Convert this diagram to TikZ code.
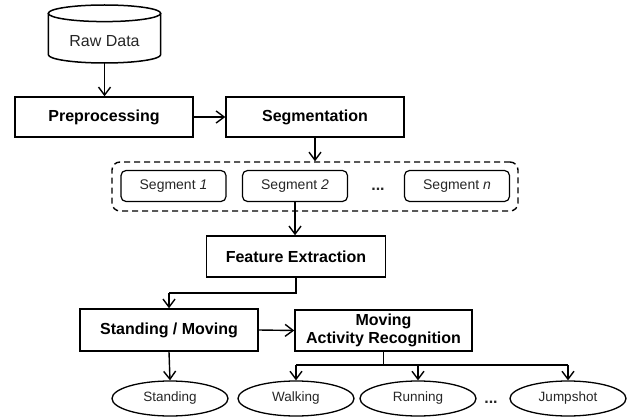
\documentclass[tikz,border=0pt]{standalone}
\usepackage{fontspec}
\setmainfont{Liberation Sans}
\usetikzlibrary{arrows.meta,calc,shapes.geometric}
\begin{document}
\begin{tikzpicture}[x=1pt,y=1pt,
  box/.style={draw,line width=1.5pt,inner sep=0pt,font=\fontsize{16}{19}\selectfont\bfseries,align=center},
  segbox/.style={draw,line width=1.2pt,rounded corners=5pt,inner sep=0pt,minimum width=105pt,minimum height=31pt,font=\fontsize{14}{16}\selectfont,text=black!85},
  oval/.style={draw,ellipse,line width=1.3pt,inner sep=0pt,minimum width=116pt,minimum height=35pt,font=\fontsize{13.5}{16}\selectfont,text=black!85},
  conn/.style={line width=1.4pt,-{Straight Barb[length=8pt,width=12pt]}},
  plain/.style={line width=1.4pt},
  dots/.style={font=\fontsize{16}{16}\selectfont\bfseries,text=black!85,inner sep=0pt,anchor=base}
]
\useasboundingbox (0,0) rectangle (631,418);
% cylinder
\fill[white] (48.3,404.7) -- (48.3,363.3) arc[start angle=180,end angle=360,x radius=56.2pt,y radius=8.3pt] -- (160.7,404.7) -- cycle;
\draw[line width=1.5pt] (48.3,404.7) -- (48.3,363.3) arc[start angle=180,end angle=360,x radius=56.2pt,y radius=8.3pt] -- (160.7,404.7);
\draw[line width=1.5pt] (104.5,404.7) ellipse[x radius=56.2pt,y radius=8.3pt];
\node[inner sep=0pt,minimum width=112.4pt,minimum height=49.7pt] (raw) at (104.5,380) {};
\node[inner sep=0pt,font=\fontsize{16}{19}\selectfont,text=black!85] (rawtxt) at (104.5,376.5) {Raw Data};

\node[box,minimum width=178pt,minimum height=40pt] (pre) at (104,301) {Preprocessing};
\node[box,minimum width=178pt,minimum height=40pt] (seg) at (315,301) {Segmentation};

\node[draw,dash pattern=on 6pt off 4pt,line width=1.4pt,rounded corners=8pt,minimum width=406pt,minimum height=49pt,inner sep=0pt] (grp) at (315,231.5) {};
\node[segbox] (s1) at (173.5,232) {Segment \textit{1}};
\node[segbox] (s2) at (295,232) {Segment \textit{2}};
\node[segbox] (sn) at (457,232) {Segment \textit{n}};
\node[dots] (d1) at (378,227.5) {...};

\node[box,minimum width=179pt,minimum height=41pt] (feat) at (296,161.5) {Feature Extraction};
\node[box,minimum width=178pt,minimum height=42pt] (sm) at (169,88) {Standing / Moving};
\node[box,minimum width=177pt,minimum height=41pt] (mar) at (383.5,87.5) {Moving\\[-0.5pt]Activity Recognition};

\node[oval] (st) at (170,19.5) {Standing};
\node[oval] (wa) at (296,19.5) {Walking};
\node[oval] (ru) at (418,19.5) {Running};
\node[oval] (ju) at (568,19.5) {Jumpshot};
\node[dots] (d2) at (491,14.5) {...};

\coordinate (fe1) at (296,125);
\coordinate (fe2) at (169,125);
\coordinate (br) at (383.5,53);
\coordinate (bw) at (296,53);
\coordinate (bj) at (568,53);

\draw[conn] (raw.south) -- (pre.north -| raw.south);
\draw[conn] (pre.east) -- (seg.west);
\draw[conn] (seg.south) -- (seg.south |- grp.north);
\draw[conn] (s2.south) -- (s2.south |- feat.north);
\draw[plain] (feat.south) -- (fe1) -- (fe2);
\draw[conn] (fe2) -- (sm.north);
\draw[conn] (sm.east) -- (mar.west);
\draw[conn] (sm.south) -- (st.north);
\draw[plain] (mar.south) -- (br);
\draw[plain] (bw) -- (bj);
\draw[conn] (bw) -- (wa.north);
\draw[conn] (bw -| ru.north) -- (ru.north);
\draw[conn] (bj) -- (ju.north);
\end{tikzpicture}
\end{document}
